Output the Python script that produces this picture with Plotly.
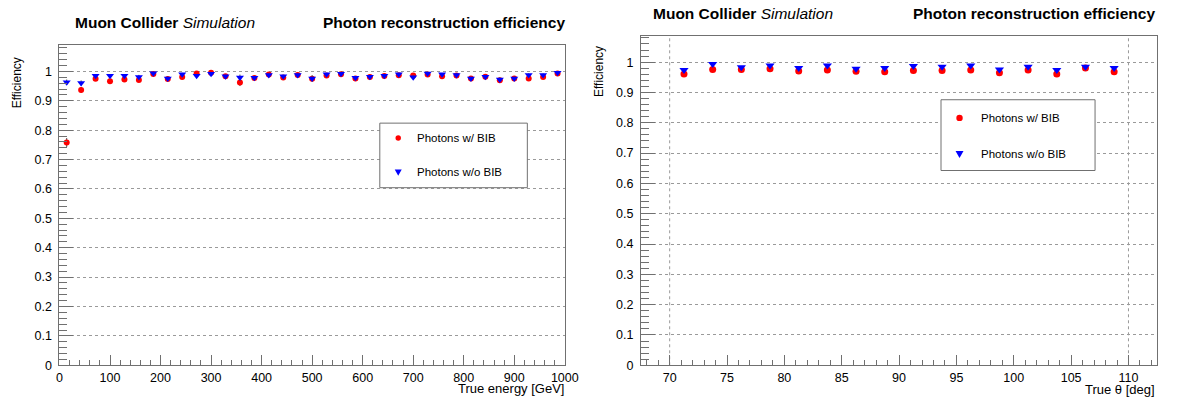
import plotly.graph_objects as go

W, H = 1181, 405
FONT = "Liberation Sans, Arial, Helvetica, sans-serif"

# ---------------- data ----------------
energy_centers = [14.29, 42.86, 71.43, 100.0, 128.57, 157.14, 185.71, 214.29, 242.86, 271.43,
                  300.0, 328.57, 357.14, 385.71, 414.29, 442.86, 471.43, 500.0, 528.57, 557.14,
                  585.71, 614.29, 642.86, 671.43, 700.0, 728.57, 757.14, 785.71, 814.29, 842.86,
                  871.43, 900.0, 928.57, 957.14, 985.71]
eff_E_bib = [0.758, 0.937, 0.975, 0.966, 0.972, 0.971, 0.991, 0.974, 0.981, 0.993,
             0.995, 0.983, 0.962, 0.977, 0.989, 0.979, 0.988, 0.975, 0.986, 0.990,
             0.976, 0.981, 0.984, 0.987, 0.986, 0.989, 0.983, 0.986, 0.976, 0.982,
             0.970, 0.976, 0.976, 0.981, 0.993]
err_E_bib = [0.015, 0.010, 0.007, 0.008, 0.007, 0.007, 0.005, 0.006, 0.006, 0.005,
             0.004, 0.005, 0.012, 0.006, 0.004, 0.005, 0.005, 0.008, 0.005, 0.004,
             0.006, 0.005, 0.005, 0.005, 0.006, 0.004, 0.005, 0.005, 0.006, 0.005,
             0.007, 0.006, 0.006, 0.005, 0.004]
eff_E_nobib = [0.963, 0.960, 0.985, 0.985, 0.985, 0.981, 0.994, 0.976, 0.990, 0.985,
               0.992, 0.983, 0.979, 0.978, 0.988, 0.983, 0.988, 0.976, 0.990, 0.992,
               0.978, 0.982, 0.985, 0.990, 0.980, 0.993, 0.990, 0.988, 0.976, 0.982,
               0.972, 0.976, 0.988, 0.988, 0.995]
err_E_nobib = [0.009, 0.009, 0.006, 0.006, 0.006, 0.007, 0.004, 0.006, 0.005, 0.006,
               0.004, 0.005, 0.010, 0.006, 0.005, 0.005, 0.005, 0.011, 0.004, 0.004,
               0.006, 0.005, 0.005, 0.004, 0.006, 0.004, 0.004, 0.005, 0.006, 0.005,
               0.007, 0.006, 0.005, 0.005, 0.004]

theta_centers = [71.25, 73.75, 76.25, 78.75, 81.25, 83.75, 86.25, 88.75,
                 91.25, 93.75, 96.25, 98.75, 101.25, 103.75, 106.25, 108.75]
eff_T_bib = [0.961, 0.976, 0.976, 0.978, 0.971, 0.974, 0.970, 0.968,
             0.972, 0.972, 0.974, 0.965, 0.974, 0.961, 0.981, 0.968]
err_T_bib = [0.004, 0.004, 0.004, 0.004, 0.004, 0.004, 0.004, 0.004,
             0.004, 0.004, 0.004, 0.004, 0.004, 0.004, 0.004, 0.004]
eff_T_nobib = [0.974, 0.994, 0.983, 0.989, 0.981, 0.989, 0.978, 0.981,
               0.987, 0.985, 0.989, 0.976, 0.985, 0.974, 0.985, 0.981]
err_T_nobib = [0.003, 0.002, 0.003, 0.003, 0.003, 0.003, 0.003, 0.003,
               0.003, 0.003, 0.003, 0.003, 0.003, 0.003, 0.003, 0.003]

energy_ticks = [0, 100, 200, 300, 400, 500, 600, 700, 800, 900, 1000]
theta_ticks = [70, 75, 80, 85, 90, 95, 100, 105, 110]
legend_labels = ["Photons w/ BIB", "Photons w/o BIB"]

RED = "#ff0000"
BLUE = "#0000ff"
FRAME = "#707070"


def xp(px):
    return px / W


def yp(py):
    return 1 - py / H


fig = go.Figure()

err_style = dict(type="data", thickness=1, width=0, color="#404040")

fig.add_trace(go.Scatter(x=energy_centers, y=eff_E_bib, mode="markers",
                         marker=dict(symbol="circle", size=6, color=RED),
                         error_y=dict(array=err_E_bib, **err_style),
                         xaxis="x", yaxis="y", showlegend=False))
fig.add_trace(go.Scatter(x=energy_centers, y=eff_E_nobib, mode="markers",
                         marker=dict(symbol="triangle-down", size=7, color=BLUE),
                         error_y=dict(array=err_E_nobib, **err_style),
                         xaxis="x", yaxis="y", showlegend=False))
fig.add_trace(go.Scatter(x=theta_centers, y=eff_T_bib, mode="markers",
                         marker=dict(symbol="circle", size=7, color=RED),
                         error_y=dict(array=err_T_bib, **err_style),
                         xaxis="x2", yaxis="y2", showlegend=False))
fig.add_trace(go.Scatter(x=theta_centers, y=eff_T_nobib, mode="markers",
                         marker=dict(symbol="triangle-down", size=8, color=BLUE),
                         error_y=dict(array=err_T_nobib, **err_style),
                         xaxis="x2", yaxis="y2", showlegend=False))

# frame geometry (pixels)
L1, R1, T1, B1 = 57.3, 570.0, 45.7, 371.7
L2, R2, T2, B2 = 647.3, 1171.0, 37.0, 371.7

tickfont = dict(family=FONT, size=12.5, color="#000")


def xaxis(dom, rng, tickvals, mdtick, tick0):
    return dict(domain=dom, range=rng, tickmode="array", tickvals=tickvals,
                ticktext=[str(v) for v in tickvals], ticks="inside",
                ticklen=10, tickwidth=1, tickcolor=FRAME, showline=True, linecolor=FRAME,
                linewidth=1, mirror=True, showgrid=False, zeroline=False,
                tickfont=tickfont, ticklabelstandoff=1,
                minor=dict(ticks="inside", ticklen=5, tickcolor=FRAME, dtick=mdtick,
                           tick0=tick0, showgrid=False))


def yaxis(dom, rng, anchor):
    return dict(domain=dom, range=rng, dtick=0.1, tick0=0, ticks="inside", ticklen=14,
                tickwidth=1, tickcolor=FRAME, showline=True, linecolor=FRAME, linewidth=1,
                mirror=True, showgrid=True, gridcolor="#9a9a9a", griddash="dot",
                gridwidth=1, zeroline=False, tickfont=tickfont, ticklabelstandoff=4,
                anchor=anchor,
                minor=dict(ticks="inside", ticklen=8, tickcolor=FRAME, dtick=0.02,
                           tick0=0, showgrid=False))


fig.update_layout(
    width=W, height=H, autosize=False,
    margin=dict(l=0, r=0, t=0, b=0),
    paper_bgcolor="white", plot_bgcolor="white",
    font=dict(family=FONT, color="#000"),
    xaxis=xaxis([xp(L1), xp(R1)], [0, 1000], energy_ticks, 20, 0) | dict(anchor="y"),
    yaxis=yaxis([yp(B1), yp(T1)], [0, 1.09], "x"),
    xaxis2=xaxis([xp(L2), xp(R2)], [67.5, 112.5], theta_ticks, 1, 70) | dict(anchor="y2"),
    yaxis2=yaxis([yp(B2), yp(T2)], [0, 1.085], "x2"),
)

# vertical dotted lines at the theta range limits
for xv in (theta_ticks[0], theta_ticks[-1]):
    fig.add_shape(type="line", xref="x2", yref="y2 domain", x0=xv, x1=xv, y0=0, y1=1,
                  line=dict(color="#9a9a9a", width=1, dash="dot"), layer="below")

ann = []
for (xl, xr, yc) in ((71, 572, 23), (657, 1171, 14)):
    ann.append(dict(text="<b>Muon Collider</b> <i>Simulation</i>", x=xp(xl), y=yp(yc),
                    xref="paper", yref="paper", xanchor="left", yanchor="middle",
                    showarrow=False, font=dict(family=FONT, size=15.5, color="#000")))
    ann.append(dict(text="<b>Photon reconstruction efficiency</b>", x=xp(xr), y=yp(yc),
                    xref="paper", yref="paper", xanchor="right", yanchor="middle",
                    showarrow=False, font=dict(family=FONT, size=15.5, color="#000")))

ann.append(dict(text="True energy [GeV]", x=xp(571), y=yp(395), xref="paper", yref="paper",
                xanchor="right", yanchor="middle", showarrow=False,
                font=dict(family=FONT, size=13, color="#000")))
ann.append(dict(text="True θ [deg]", x=xp(1171), y=yp(396), xref="paper", yref="paper",
                xanchor="right", yanchor="middle", showarrow=False,
                font=dict(family=FONT, size=13, color="#000")))
for (xc, ytop) in ((14, 56), (604, 45)):
    ann.append(dict(text="Efficiency", x=xp(xc), y=yp(ytop), xref="paper", yref="paper",
                    xanchor="center", yanchor="top", textangle=-90, showarrow=False,
                    font=dict(family=FONT, size=12, color="#000")))

shapes = []
legends = [
    dict(box=(382.3, 125.3, 532, 191), mx=401, tx=418, ys=(140.5, 175.5), ms=5.5),
    dict(box=(951.7, 101.5, 1108, 173.5), mx=970.5, tx=990, ys=(120, 157), ms=6.5),
]
for lg in legends:
    x0, y0, x1, y1 = lg["box"]
    shapes.append(dict(type="rect", xref="paper", yref="paper", x0=xp(x0), x1=xp(x1),
                       y0=yp(y1), y1=yp(y0), line=dict(color=FRAME, width=1),
                       fillcolor="white", layer="above"))
    r = lg["ms"] / 2
    mx = lg["mx"]
    yr, yb = lg["ys"]
    shapes.append(dict(type="circle", xref="paper", yref="paper",
                       x0=xp(mx - r), x1=xp(mx + r), y0=yp(yr + r), y1=yp(yr - r),
                       line=dict(width=0), fillcolor=RED, layer="above"))
    t = r + 0.8
    path = "M {} {} L {} {} L {} {} Z".format(xp(mx - t), yp(yb - t * 0.85), xp(mx + t),
                                             yp(yb - t * 0.85), xp(mx), yp(yb + t * 0.95))
    shapes.append(dict(type="path", xref="paper", yref="paper", path=path,
                       line=dict(width=0), fillcolor=BLUE, layer="above"))
    for lab, yy in zip(legend_labels, lg["ys"]):
        ann.append(dict(text=lab, x=xp(lg["tx"]), y=yp(yy), xref="paper", yref="paper",
                        xanchor="left", yanchor="middle", showarrow=False,
                        font=dict(family=FONT, size=11.5, color="#000")))

fig.update_layout(annotations=ann, shapes=list(fig.layout.shapes) + shapes)

fig.write_html("out.html")
